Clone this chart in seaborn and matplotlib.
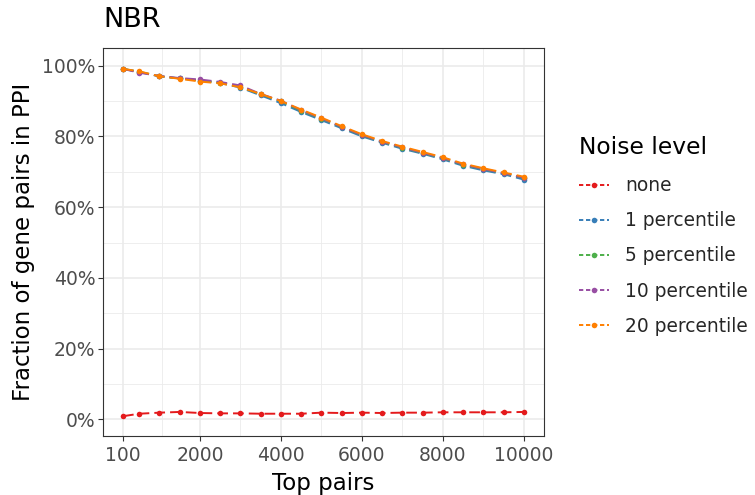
import numpy as np
import pandas as pd
import matplotlib
matplotlib.use("Agg")
import matplotlib.pyplot as plt
import seaborn as sns
from matplotlib.lines import Line2D
from matplotlib.ticker import FuncFormatter

# ---- data ----
top_pairs = [100, 500, 1000, 1500, 2000, 2500, 3000, 3500, 4000, 4500, 5000,
             5500, 6000, 6500, 7000, 7500, 8000, 8500, 9000, 9500, 10000]
noise_levels = ["none", "1 percentile", "5 percentile", "10 percentile", "20 percentile"]
frac_none = [0.9, 1.6, 1.9, 2.1, 1.8, 1.7, 1.7, 1.6, 1.6, 1.6, 1.9,
             1.8, 1.9, 1.8, 1.9, 1.9, 2.0, 2.0, 2.0, 2.0, 2.1]
frac_p1 = [99.1, 98.2, 97.0, 96.4, 95.8, 95.1, 93.8, 91.6, 89.4, 86.9, 84.6,
           82.3, 80.0, 78.2, 76.5, 75.1, 73.5, 71.7, 70.4, 69.3, 67.8]
frac_p5 = [99.1, 98.3, 97.0, 96.4, 95.8, 95.2, 94.0, 91.9, 89.9, 87.2, 85.0,
           82.6, 80.3, 78.4, 76.8, 75.3, 73.8, 72.0, 70.7, 69.6, 68.2]
frac_p10 = [99.1, 98.0, 97.1, 96.5, 96.1, 95.4, 94.4, 92.0, 90.1, 87.4, 85.1,
            82.7, 80.4, 78.5, 76.9, 75.4, 73.9, 72.1, 70.8, 69.6, 68.3]
frac_p20 = [99.1, 98.4, 97.0, 96.3, 95.5, 95.0, 93.9, 92.0, 90.0, 87.6, 85.3,
            82.9, 80.6, 78.7, 77.1, 75.6, 74.1, 72.3, 71.0, 69.8, 68.6]
series = [frac_none, frac_p1, frac_p5, frac_p10, frac_p20]
colors = ["#E41A1C", "#377EB8", "#4DAF4A", "#984EA3", "#FF7F00"]
x_ticks = [100, 2000, 4000, 6000, 8000, 10000]
y_ticks = [0, 20, 40, 60, 80, 100]

rows = []
for lvl, vals in zip(noise_levels, series):
    for xv, yv in zip(top_pairs, vals):
        rows.append({"Top pairs": xv, "Fraction": yv, "Noise level": lvl})
df = pd.DataFrame(rows)
df["Noise level"] = pd.Categorical(df["Noise level"], categories=noise_levels, ordered=True)

sns.set_theme(style="whitegrid")
plt.rcParams["font.family"] = ["DejaVu Sans"]

fig = plt.figure(figsize=(7.55, 4.95), dpi=100)
ax = fig.add_axes([103 / 755, 1 - 436 / 495, (544 - 103) / 755, (436 - 48) / 495])

sns.lineplot(data=df, x="Top pairs", y="Fraction", hue="Noise level",
             hue_order=noise_levels, palette=colors, marker="o", markersize=4,
             markeredgewidth=0, linewidth=1.4, linestyle=(0, (5.5, 2.6)),
             legend=False, ax=ax, sort=False)

ax.set_xlim(-395, 10495)
ax.set_ylim(-4.7, 105.0)
ax.set_xticks(x_ticks)
ax.set_xticklabels([str(t) for t in x_ticks])
ax.set_yticks(y_ticks)
ax.yaxis.set_major_formatter(FuncFormatter(lambda v, p: f"{int(v)}%"))
ax.set_xticks([1050, 3000, 5000, 7000, 9000], minor=True)
ax.set_yticks([10, 30, 50, 70, 90], minor=True)

ax.set_facecolor("white")
ax.grid(True, which="major", color="#EBEBEB", linewidth=1.2)
ax.grid(True, which="minor", color="#EBEBEB", linewidth=0.6)
ax.set_axisbelow(True)
for sp in ax.spines.values():
    sp.set_visible(True)
    sp.set_color("#333333")
    sp.set_linewidth(0.8)
ax.tick_params(axis="both", which="major", length=3.5, width=0.8, color="#333333",
               labelcolor="#4D4D4D", labelsize=13.5, bottom=True, left=True)
ax.tick_params(axis="x", which="major", pad=4)
ax.tick_params(axis="y", which="major", pad=2)
ax.tick_params(axis="both", which="minor", length=0)

ax.set_xlabel("Top pairs", fontsize=16.5, color="black", labelpad=5)
ax.set_ylabel("Fraction of gene pairs in PPI", fontsize=16.5, color="black", labelpad=5)
fig.text(103 / 755, 1 - 20 / 495, "NBR", fontsize=19.5, color="black", va="center", ha="left")

handles = [Line2D([0], [0], color=c, linewidth=1.4, linestyle=(0, (2.2, 1.4)),
                  marker="o", markersize=4, markeredgewidth=0) for c in colors]
leg = fig.legend(handles, noise_levels, title="Noise level", loc="upper left",
                 bbox_to_anchor=(572 / 755, 1 - 129 / 495), frameon=False,
                 fontsize=13.4, title_fontsize=16.8, handlelength=1.6,
                 handletextpad=0.85, labelspacing=0.87, alignment="left",
                 borderaxespad=0, borderpad=0.4)
leg.get_title().set_color("black")
leg._legend_box.sep = 12

fig.savefig("out.png", dpi=100)
